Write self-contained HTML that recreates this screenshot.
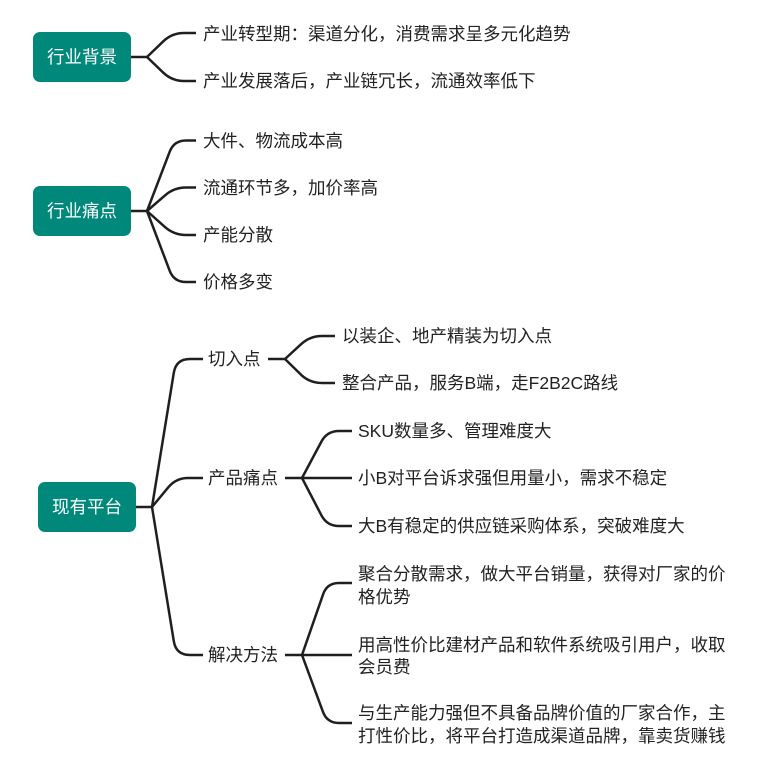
<!DOCTYPE html>
<html>
<head>
<meta charset="utf-8">
<style>
  html, body { margin: 0; padding: 0; background: #ffffff; }
  svg { display: block; }
  text { font-family: "Liberation Sans", "Noto Sans CJK SC", sans-serif; font-size: 17.5px; fill: #222222; }
  .w { fill: #ffffff; }
</style>
</head>
<body>
<svg width="774" height="768" viewBox="0 0 774 768" xmlns="http://www.w3.org/2000/svg">
  <rect x="0" y="0" width="774" height="768" fill="#ffffff"/>

  <g fill="none" stroke="#1f1f1f" stroke-width="2.5" stroke-linecap="butt" stroke-linejoin="round">
    <!-- 行业背景 -->
    <path d="M131 57 L147 57"/>
    <path d="M147 57 L163.3 41.3 Q172 33 184 33 L196 33"/>
    <path d="M147 57 L163.3 72.7 Q172 81 184 81 L196 81"/>

    <!-- 行业痛点 -->
    <path d="M131 211 L147 211"/>
    <path d="M147 211 L169.7 151.7 Q174 140.5 186 140.5 L196 140.5"/>
    <path d="M147 211 L165 195.4 Q174 187.5 186 187.5 L196 187.5"/>
    <path d="M147 211 L165 227.1 Q174 235 186 235 L196 235"/>
    <path d="M147 211 L169.7 270.8 Q174 282 186 282 L196 282"/>

    <!-- 现有平台 -->
    <path d="M136 507 L152 507"/>
    <path d="M152 507 L173.8 372.8 Q176 359 190 359 L203 359"/>
    <path d="M152 507 L168.3 487.3 Q176 478 188 478 L203 478"/>
    <path d="M152 507 L173.8 641.2 Q176 655 190 655 L203 655"/>

    <!-- 切入点 -->
    <path d="M268 359 L285 359"/>
    <path d="M285 359 L301.2 344.1 Q310 336 322 336 L335 336"/>
    <path d="M285 359 L301.2 374.9 Q310 383 322 383 L335 383"/>

    <!-- 产品痛点 -->
    <path d="M285 478 L302 478"/>
    <path d="M302 478 L321.4 441.6 Q327 431 339 431 L352 431"/>
    <path d="M302 478 L352 478"/>
    <path d="M302 478 L321.4 515.3 Q327 526 339 526 L352 526"/>

    <!-- 解决方法 -->
    <path d="M285 655 L302 655"/>
    <path d="M302 655 L323.1 594.3 Q327 583 339 583 L352 583"/>
    <path d="M302 655 L352 655"/>
    <path d="M302 655 L322.9 711.7 Q327 723 339 723 L352 723"/>
  </g>

  <!-- Root boxes -->
  <rect x="33" y="32" width="98" height="50" rx="7" ry="7" fill="#00897b"/>
  <text class="w" x="82" y="57" text-anchor="middle" dominant-baseline="central">行业背景</text>

  <rect x="33" y="186" width="98" height="50" rx="7" ry="7" fill="#00897b"/>
  <text class="w" x="82" y="211" text-anchor="middle" dominant-baseline="central">行业痛点</text>

  <rect x="38" y="482" width="98" height="50" rx="7" ry="7" fill="#00897b"/>
  <text class="w" x="87" y="507" text-anchor="middle" dominant-baseline="central">现有平台</text>

  <!-- 行业背景 children -->
  <text x="203" y="34" dominant-baseline="central">产业转型期：渠道分化，消费需求呈多元化趋势</text>
  <text x="203" y="81" dominant-baseline="central">产业发展落后，产业链冗长，流通效率低下</text>

  <!-- 行业痛点 children -->
  <text x="203" y="141" dominant-baseline="central">大件、物流成本高</text>
  <text x="203" y="188" dominant-baseline="central">流通环节多，加价率高</text>
  <text x="203" y="235" dominant-baseline="central">产能分散</text>
  <text x="203" y="282" dominant-baseline="central">价格多变</text>

  <!-- 现有平台 children -->
  <text x="208" y="359" dominant-baseline="central">切入点</text>
  <text x="208" y="478" dominant-baseline="central">产品痛点</text>
  <text x="208" y="655" dominant-baseline="central">解决方法</text>

  <!-- 切入点 children -->
  <text x="342" y="336" dominant-baseline="central">以装企、地产精装为切入点</text>
  <text x="342" y="383" dominant-baseline="central">整合产品，服务B端，走F2B2C路线</text>

  <!-- 产品痛点 children -->
  <text x="358" y="431" dominant-baseline="central">SKU数量多、管理难度大</text>
  <text x="358" y="478" dominant-baseline="central">小B对平台诉求强但用量小，需求不稳定</text>
  <text x="358" y="526" dominant-baseline="central">大B有稳定的供应链采购体系，突破难度大</text>

  <!-- 解决方法 children -->
  <text x="358" y="574" dominant-baseline="central">聚合分散需求，做大平台销量，获得对厂家的价</text>
  <text x="358" y="597" dominant-baseline="central">格优势</text>

  <text x="358" y="645" dominant-baseline="central">用高性价比建材产品和软件系统吸引用户，收取</text>
  <text x="358" y="667" dominant-baseline="central">会员费</text>

  <text x="358" y="713" dominant-baseline="central">与生产能力强但不具备品牌价值的厂家合作，主</text>
  <text x="358" y="736" dominant-baseline="central">打性价比，将平台打造成渠道品牌，靠卖货赚钱</text>
</svg>
</body>
</html>
